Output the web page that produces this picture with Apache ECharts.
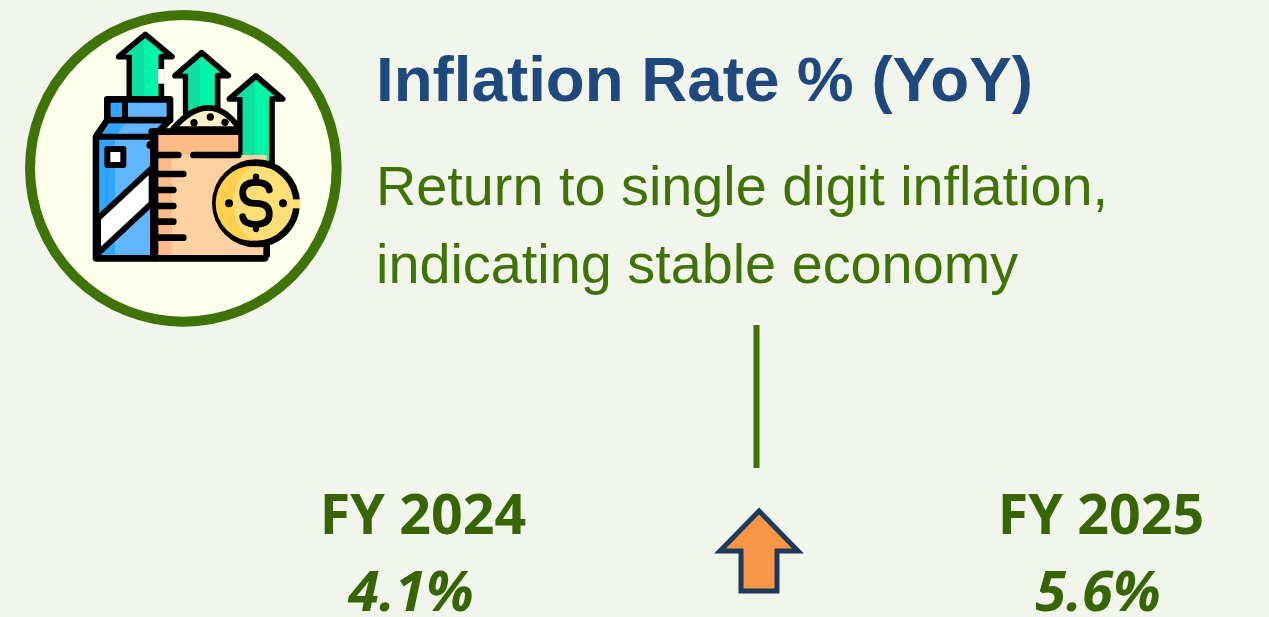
<!DOCTYPE html>
<html>
<head>
<meta charset="utf-8">
<style>
    html, body {margin: 0; padding: 0; background: #f2f5eb;}
    #main {width: 1269px; height: 617px;}
</style>
<script src="https://cdn.jsdelivr.net/npm/echarts@6/dist/echarts.min.js"></script>
</head>
<body>
<div id="main"></div>
<script>
const titleText = 'Inflation Rate % (YoY)';
const subtitleLines = ['Return to single digit inflation,', 'indicating stable economy'];
const fiscalYears = ['FY 2024', 'FY 2025'];
const inflationValues = [4.1, 5.6];

const green = '#3f7307';
const darkGreen = '#376504';
const ink = '#000000';

// graphic has no plain path type, so the curved parts get registered
echarts.graphic.registerShape('grainPile', echarts.graphic.extendPath('M458 372 Q570 245 660 372 Z'));
echarts.graphic.registerShape('coinShade', echarts.graphic.extendPath('M700 482 A113 113 0 0 0 700 708 A135 135 0 0 1 700 482 Z'));
echarts.graphic.registerShape('dollarS', echarts.graphic.extendPath('M748 555 Q745 532 708 532 Q668 532 668 563 Q668 595 708 595 Q748 595 748 627 Q748 658 708 658 Q671 658 668 635'));

// shorthand for the outlined shapes of the icon
function poly(points, fill, lineWidth) {
    return {
        type: 'polygon',
        shape: {points: points},
        style: {fill: fill, stroke: lineWidth ? ink : null, lineWidth: lineWidth || 0, lineJoin: 'round'}
    };
}

function stroke(x1, y1, x2, y2, width) {
    return {
        type: 'line',
        shape: {x1: x1, y1: y1, x2: x2, y2: y2},
        style: {stroke: ink, lineWidth: width || 20, lineCap: 'round'}
    };
}

function dot(cx, cy, r) {
    return {type: 'circle', shape: {cx: cx, cy: cy, r: r || 11}, style: {fill: ink}};
}

function upArrow(cx, tipY, wingY, bottomY) {
    return [
        poly([[cx, tipY], [cx + 80, wingY], [cx + 48, wingY], [cx + 48, bottomY], [cx - 48, bottomY], [cx - 48, wingY], [cx - 80, wingY]], '#00f5a8', 17),
        poly([[cx, tipY + 12], [cx - 60, wingY - 6], [cx - 40, wingY - 6], [cx - 40, bottomY - 8], [cx - 4, bottomY - 8], [cx - 4, tipY + 26]], '#0fe0a0')
    ];
}

// icon children are in a 330x325 box, 3x scale
const iconChildren = [
    {type: 'circle', shape: {cx: 490, cy: 490, r: 460}, style: {fill: '#fcffec', stroke: green, lineWidth: 30}}
]
    .concat(upArrow(376, 88, 155, 285))
    .concat([
        // break in the right edge of the first arrow
        {type: 'line', shape: {x1: 424, y1: 192, x2: 424, y2: 236}, style: {stroke: '#fcffec', lineWidth: 20}}
    ])
    .concat(upArrow(545, 143, 212, 325))
    .concat([
        // sack grain
        {type: 'grainPile', style: {fill: '#fdf0c8', stroke: ink, lineWidth: 17, lineJoin: 'round'}},
        dot(522, 353), dot(571, 336), dot(615, 352)
    ])
    .concat(upArrow(708, 213, 282, 480))
    .concat([
        // carton
        poly([[228, 395], [262, 345], [450, 345], [400, 395], [400, 760], [228, 760]], '#62b5ff', 20),
        poly([[240, 395], [270, 356], [315, 356], [285, 395], [285, 749], [240, 749]], '#2ea6ff'),
        poly([[262, 283], [450, 283], [450, 345], [262, 345]], '#62b5ff', 20),
        poly([[273, 294], [315, 294], [315, 334], [273, 334]], '#2ea6ff'),
        stroke(315, 290, 315, 340, 18),
        stroke(238, 395, 392, 395, 18),
        poly([[234, 640], [395, 490], [395, 595], [234, 745]], '#ffffff', 18),
        poly([[262, 432], [310, 432], [310, 480], [262, 480]], '#ffffff', 18),
        // sack
        poly([[400, 380], [655, 380], [655, 450], [405, 450]], '#ffbc85', 0),
        poly([[405, 450], [740, 450], [740, 760], [405, 760]], '#ffd0a2', 0),
        poly([[405, 390], [455, 390], [455, 750], [405, 750]], '#fbb987', 0),
        stroke(395, 380, 655, 380),
        stroke(405, 380, 405, 760),
        dot(392, 420, 13),
        stroke(405, 760, 735, 760),
        stroke(740, 700, 740, 750),
        stroke(415, 450, 475, 450), stroke(520, 450, 655, 450),
        stroke(415, 507, 490, 507),
        stroke(415, 555, 460, 555),
        stroke(415, 603, 460, 603),
        stroke(415, 650, 460, 650),
        stroke(415, 698, 490, 698),
        // coin
        {type: 'circle', shape: {cx: 708, cy: 595, r: 122}, style: {fill: '#ffdf75', stroke: ink, lineWidth: 20}},
        {type: 'coinShade', style: {fill: '#ffcf50'}},
        {type: 'line', shape: {x1: 830, y1: 583, x2: 830, y2: 610}, style: {stroke: '#ffdf75', lineWidth: 22}},
        dot(627, 595, 12), dot(789, 595, 12),
        {type: 'dollarS', style: {fill: null, stroke: ink, lineWidth: 20, lineCap: 'round'}},
        stroke(708, 515, 708, 532, 19),
        stroke(708, 658, 708, 672, 19)
    ]);

function textEl(text, x, y, font, fill) {
    return {
        type: 'text',
        style: {text: text, x: x, y: y, font: font, fill: fill, textAlign: 'center', textVerticalAlign: 'middle'}
    };
}

const figureFont = 'bold 55.5px "Open Sans", sans-serif';
const valueFont = 'italic bold 56px "Open Sans", sans-serif';
const arrowPoints = [[759, 511], [798, 551], [777, 551], [777, 591], [741, 591], [741, 551], [720, 551]];

const chart = echarts.init(document.getElementById('main'), null, {renderer: 'canvas'});
chart.setOption({
    backgroundColor: '#f2f5eb',
    animation: false,
    graphic: {
        elements: [
            {type: 'group', x: 20, y: 5, scaleX: 1 / 3, scaleY: 1 / 3, children: iconChildren},
            {
                type: 'text',
                style: {text: titleText, x: 376, y: 83, font: 'bold 63.7px "Liberation Sans", Arial, sans-serif', fill: '#1f497d', textAlign: 'left', textVerticalAlign: 'middle'}
            },
            {
                type: 'text',
                style: {text: subtitleLines[0], x: 376, y: 190, font: '55.8px "Liberation Sans", Arial, sans-serif', fill: green, textAlign: 'left', textVerticalAlign: 'middle'}
            },
            {
                type: 'text',
                style: {text: subtitleLines[1], x: 376, y: 268, font: '55.8px "Liberation Sans", Arial, sans-serif', fill: green, textAlign: 'left', textVerticalAlign: 'middle'}
            },
            {type: 'line', shape: {x1: 756.5, y1: 325, x2: 756.5, y2: 468}, style: {stroke: green, lineWidth: 6}},
            {type: 'polygon', shape: {points: arrowPoints}, style: {fill: '#f79646', stroke: '#1f3a5a', lineWidth: 5, lineJoin: 'miter'}},
            textEl(fiscalYears[0], 423, 518, figureFont, darkGreen),
            textEl(inflationValues[0].toFixed(1) + '%', 411, 595, valueFont, darkGreen),
            textEl(fiscalYears[1], 1101, 518, figureFont, darkGreen),
            textEl(inflationValues[1].toFixed(1) + '%', 1098, 595, valueFont, darkGreen)
        ]
    }
});
</script>
</body>
</html>
